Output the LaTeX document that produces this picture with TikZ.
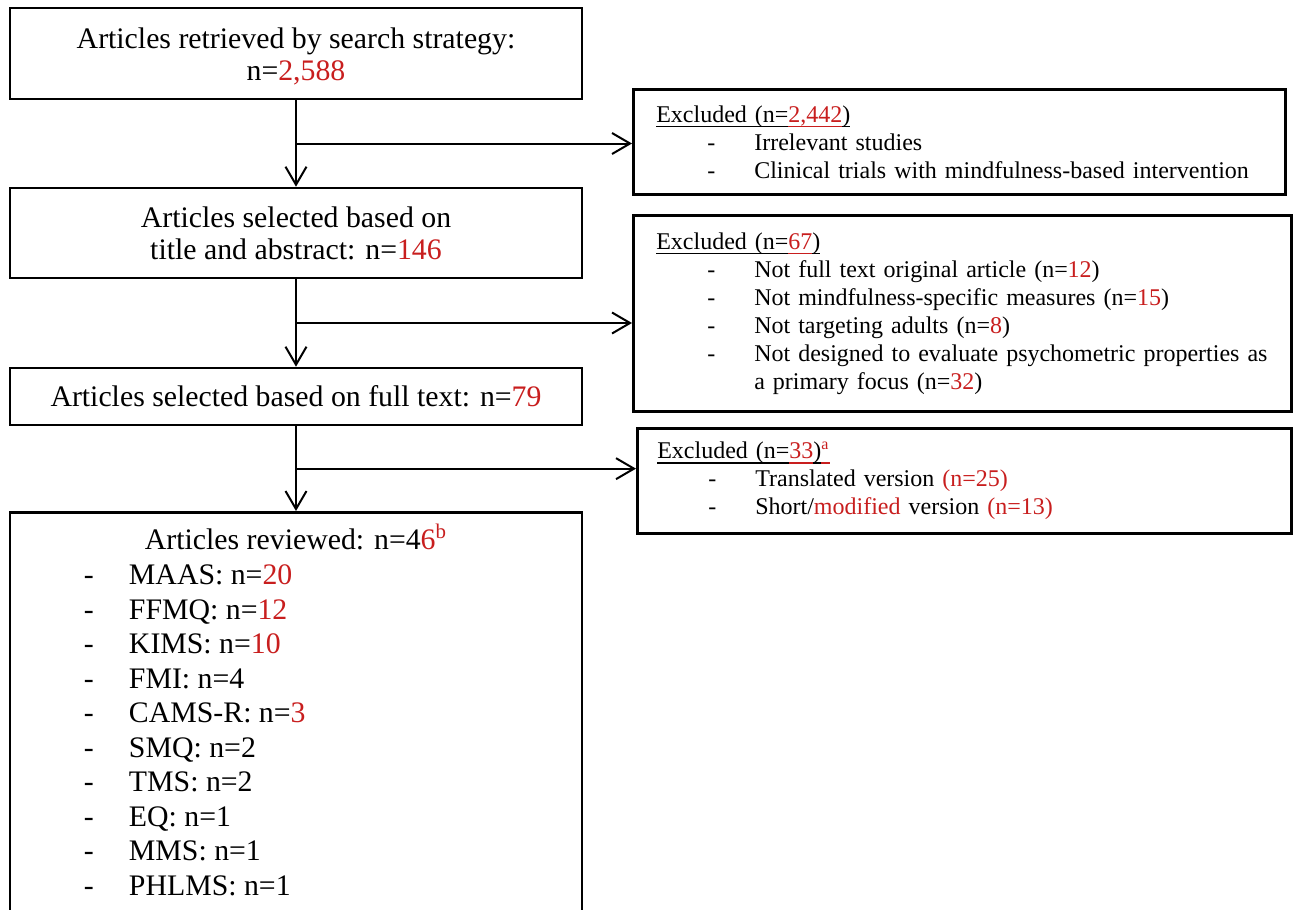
\documentclass[tikz,border=0pt]{standalone}
\usepackage{fontspec}
\setmainfont{Liberation Serif}
\usetikzlibrary{arrows.meta}

\definecolor{numred}{RGB}{200,30,30}
\newcommand{\rn}[1]{\textcolor{numred}{#1}}
\newcommand{\exline}[1]{\mbox{\makebox[49pt][l]{\hspace*{25.5pt}-}#1}}
\newcommand{\revline}[1]{\makebox[59.5pt][l]{\hspace*{37pt}-}#1}
% underline at a fixed depth, in the current colour
\newcommand{\ulbox}[1]{\setbox0\hbox{#1}\rlap{\rule[-2.6pt]{\wd0}{0.65pt}}\box0}

\begin{document}
\begin{tikzpicture}[x=0.5pt,y=-0.5pt,
  mainbox/.style={draw,line width=1.3pt,minimum width=286pt,align=center,
    inner sep=0pt,font=\fontsize{14.9pt}{16pt}\selectfont},
  exclbox/.style={draw,line width=1.3pt,anchor=north west,align=left,
    inner ysep=0pt,font=\fontsize{12pt}{14pt}\selectfont},
  flow/.style={line width=1pt,-{Straight Barb[length=9pt,width=10.5pt]}}]
  % pixel grid of the figure, y pointing down
  \useasboundingbox (0,0) rectangle (1296,910);

  % main column
  \node (retrieved) [mainbox,minimum height=45.5pt] at (296,53.5)
    {\rule{0pt}{13pt}Articles retrieved by search strategy:\\ n=\rn{2,588}};
  \node (titleabs) [mainbox,minimum height=45pt] at (296,233)
    {Articles selected based on\\ title and abstract: n=\rn{146}};
  \node (fulltext) [mainbox,minimum height=28.5pt] at (296,396.5)
    {Articles selected based on full text: n=\rn{79}};
  \node (reviewed) [mainbox,anchor=north] at (296,511)
    {\parbox[t][214.5pt][t]{286pt}{\fontsize{14.9pt}{17.25pt}\selectfont
      {\centering\rule{0pt}{18.5pt}Articles reviewed: n=4\rn{6\textsuperscript{b}}\par}
      \vspace{0.5pt}
      \revline{MAAS: n=\rn{20}}\\
      \revline{FFMQ: n=\rn{12}}\\
      \revline{KIMS: n=\rn{10}}\\
      \revline{FMI: n=4}\\
      \revline{CAMS-R: n=\rn{3}}\\
      \revline{SMQ: n=2}\\
      \revline{TMS: n=2}\\
      \revline{EQ: n=1}\\
      \revline{MMS: n=1}\\
      \revline{PHLMS: n=1}}};

  % exclusion boxes
  \node (exclA) [exclbox,text width=303pt,inner xsep=11.5pt,
    minimum height=52.5pt] at (632,88)
    {\ulbox{Excluded (n=}\rn{\ulbox{2,442}}\ulbox{)}\\
     \exline{Irrelevant studies}\\
     \exline{Clinical trials with mindfulness-based intervention}};
  \node (exclB) [exclbox,text width=306pt,inner xsep=11.5pt,
    minimum height=98pt] at (632,214)
    {\ulbox{Excluded (n=}\rn{\ulbox{67}}\ulbox{)}\\
     \exline{Not full text original article (n=\rn{12})}\\
     \exline{Not mindfulness-specific measures (n=\rn{15})}\\
     \exline{Not targeting adults (n=\rn{8})}\\
     \exline{Not designed to evaluate psychometric properties as}\\
     \hspace*{49pt}a primary focus (n=\rn{32})};
  \node (exclC) [exclbox,text width=307pt,inner xsep=10pt,
    minimum height=52.5pt] at (636,427)
    {\ulbox{Excluded (n=}\rn{\ulbox{33}}\ulbox{)}\rn{\ulbox{\textsuperscript{a}}}\\
     \exline{Translated version \rn{(n=25)}}\\
     \exline{Short/\rn{modified} version \rn{(n=13)}}};

  % connectors
  \path (retrieved.south) -- (titleabs.north) coordinate[pos=0.5] (j1);
  \path (titleabs.south) -- (fulltext.north) coordinate[pos=0.5] (j2);
  \path (fulltext.south) -- (reviewed.north) coordinate[pos=0.5] (j3);
  \draw[flow] (retrieved.south) -- (titleabs.north);
  \draw[flow] (titleabs.south) -- (fulltext.north);
  \draw[flow] (fulltext.south) -- (reviewed.north);
  \draw[flow] (j1) -- (j1 -| exclA.west);
  \draw[flow] (j2) -- (j2 -| exclB.west);
  \draw[flow] (j3) -- (j3 -| exclC.west);
\end{tikzpicture}
\end{document}
